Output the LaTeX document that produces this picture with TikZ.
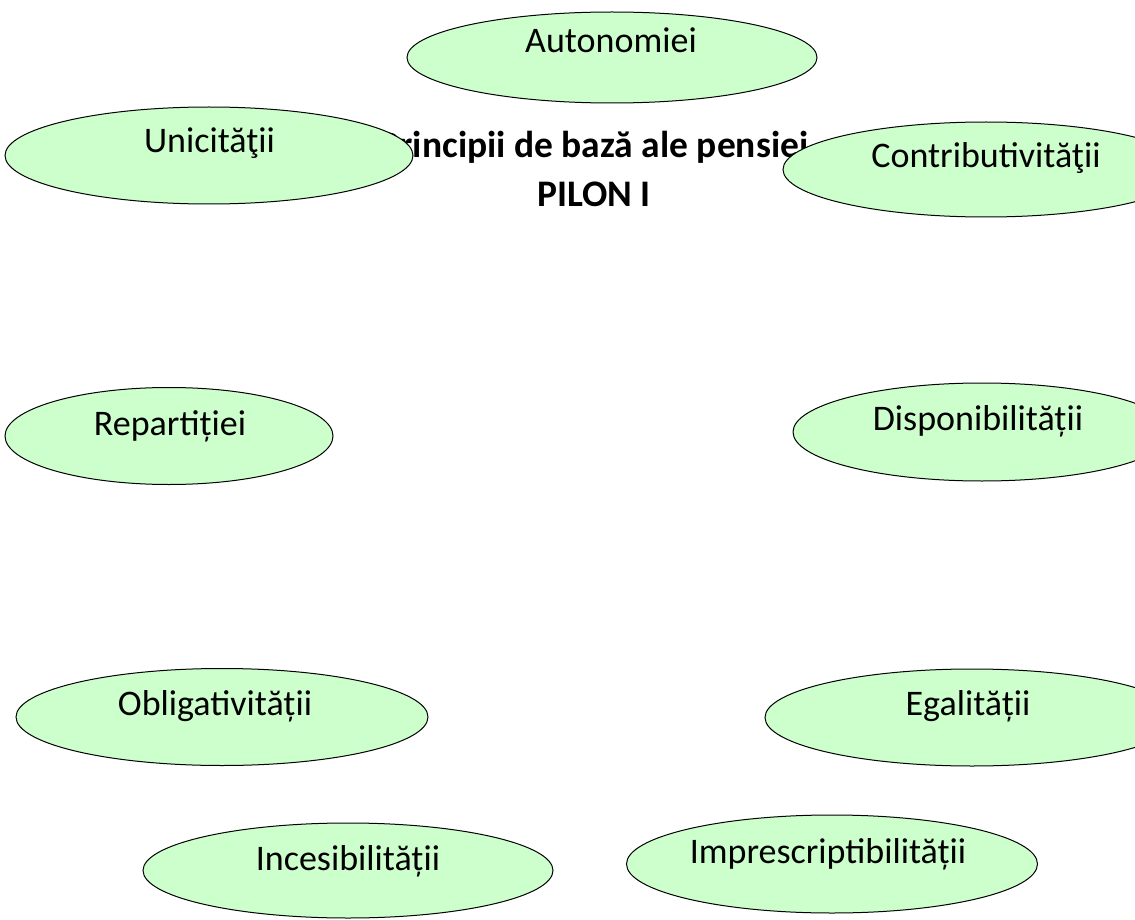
\documentclass[tikz,border=0pt]{standalone}
\usepackage{fontspec}
\setmainfont{Carlito}
\usetikzlibrary{shapes.geometric}
\definecolor{ellfill}{HTML}{CCFFCC}
\tikzset{
  ell/.style={ellipse, draw=black, line width=1pt, fill=ellfill, inner sep=0pt},
  lbl/.style={anchor=base, inner sep=0pt, font=\fontsize{36pt}{43pt}\selectfont},
  ttl/.style={align=center, inner sep=0pt, anchor=base, font=\fontsize{37.5pt}{49pt}\selectfont\bfseries}
}
\begin{document}
\begin{tikzpicture}[x=1pt,y=-1pt]
\useasboundingbox (0,0) rectangle (1135,920);
\clip (0,0) rectangle (1135,920);
\fill[white] (0,0) rectangle (1135,920);
% title (behind the ellipses)
\node[ttl] (title) at (594,207) {Principii de bază ale pensiei\\PILON I};
% ellipses
\node[ell, minimum width=410pt, minimum height=91pt] (auto) at (612,57.5) {};
\node[ell, minimum width=408pt, minimum height=97pt] (unic) at (209,155.5) {};
\node[ell, minimum width=406pt, minimum height=95pt] (contrib) at (986,169.5) {};
\node[ell, minimum width=328pt, minimum height=97pt] (repart) at (169,436) {};
\node[ell, minimum width=378pt, minimum height=98pt] (dispon) at (982,432) {};
\node[ell, minimum width=412pt, minimum height=97pt] (oblig) at (222,717) {};
\node[ell, minimum width=414pt, minimum height=97pt] (egal) at (972,717.5) {};
\node[ell, minimum width=410pt, minimum height=95pt] (inces) at (348,870.5) {};
\node[ell, minimum width=411pt, minimum height=98pt] (impresc) at (832,864) {};
% labels
\node[lbl] (tauto) at (611,53) {Autonomiei};
\node[lbl] (tunic) at (209.5,153) {Unicităţii};
\node[lbl] (tcontrib) at (986,168) {Contributivităţii};
\node[lbl] (trepart) at (170,435) {Repartiției};
\node[lbl] (tdispon) at (978,430) {Disponibilității};
\node[lbl] (toblig) at (215,715) {Obligativității};
\node[lbl] (tegal) at (968,715) {Egalității};
\node[lbl] (tinces) at (348,870) {Incesibilității};
\node[lbl] (timpresc) at (828,863) {Imprescriptibilității};
\end{tikzpicture}
\end{document}
